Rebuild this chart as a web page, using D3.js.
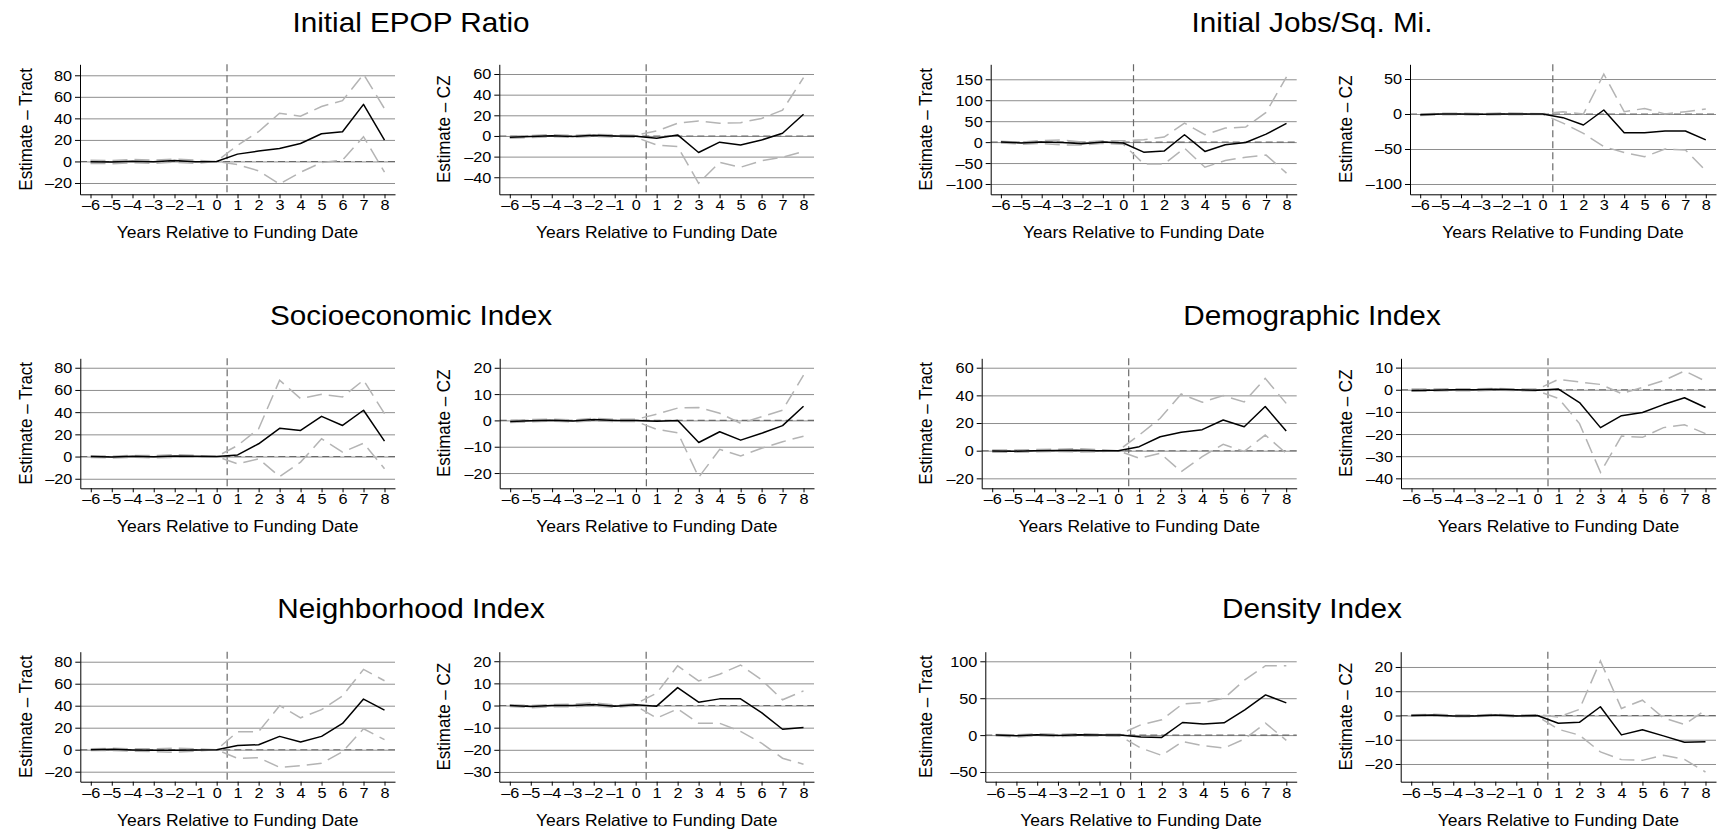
<!DOCTYPE html>
<html>
<head>
<meta charset="utf-8">
<title>Event study estimates</title>
<script src="https://cdn.jsdelivr.net/npm/d3@7"></script>
<style>
  html, body { margin: 0; padding: 0; background: #fff; }
  svg { display: block; font-family: "Liberation Sans", Arial, Helvetica, sans-serif; }
  .tick text { font-size: 15.5px; fill: #000; }
  .axis .domain, .axis .tick line { stroke: #000; stroke-width: 1; }
  .grid .tick line { stroke: #8e8e8e; stroke-width: 1; }
  .grid .domain { display: none; }
  .axistitle { font-size: 16.5px; fill: #000; }
  .ytitle { font-size: 17px; fill: #000; }
  .charttitle { font-size: 27px; fill: #000; }
</style>
</head>
<body>
<svg id="chart" width="1723" height="832"></svg>
<script>
// x axis: years relative to funding date
const years = [-6, -5, -4, -3, -2, -1, 0, 1, 2, 3, 4, 5, 6, 7, 8];
const xTickLabels = ['–6', '–5', '–4', '–3', '–2', '–1', '0', '1', '2', '3', '4', '5', '6', '7', '8'];

// one title per pair of panels (tract | CZ)
const titles = ['Initial EPOP Ratio', 'Initial Jobs/Sq. Mi.', 'Socioeconomic Index', 'Demographic Index', 'Neighborhood Index', 'Density Index'];
const geoLabels = ['Tract', 'CZ'];
const xTitle = 'Years Relative to Funding Date';

// point estimates (est) with upper / lower confidence bounds (hi / lo)
const epopTractEst = [-0.3, -0.6, 0.3, -0.2, 0.8, -0.3, 0, 6.8, 9.6, 12.1, 16.7, 25.7, 27.6, 53.0, 19.8];
const epopTractHi = [1.2, 0.9, 1.8, 1.3, 2.3, 1.2, 0, 15.0, 27.6, 44.7, 42.0, 51.0, 56.5, 81.0, 49.0];
const epopTractLo = [-1.8, -2.1, -1.2, -1.7, -0.7, -1.8, 0, -3.0, -8.7, -21.0, -10.0, -1.0, 1.2, 23.0, -10.0];

const epopCzEst = [-1.2, -0.5, 0.3, -0.5, 0.6, 0, -0.3, -2.3, 1.0, -16.0, -6.0, -8.7, -3.9, 2.6, 21.0];
const epopCzHi = [-0.2, 0.5, 1.3, 0.5, 1.6, 1.0, 0.7, 4.8, 12.3, 14.5, 12.3, 12.9, 17.0, 25.0, 56.5];
const epopCzLo = [-2.2, -1.5, -0.7, -1.5, -0.4, -1.0, -1.3, -8.7, -10.3, -45.8, -25.5, -30.3, -24.0, -20.6, -15.0];

const jobsTractEst = [0, -2, 0, -1, -4, 0, -2, -24, -21.5, 17.6, -22.3, -6.4, -0.8, 19.0, 44.7];
const jobsTractHi = [2, 0, 4, 5, 0, 3, 3, 5.6, 12, 45.5, 17.6, 33.5, 36, 71, 155.6];
const jobsTractLo = [-2, -5, -3, -7, -7, -3, -5, -52, -52, -14.4, -60, -44, -36, -31, -74];

const jobsCzEst = [-1, 0, 0, -0.5, 0, 0, 0, -5.2, -15.7, 5.7, -26.7, -26.7, -24.3, -24.3, -37];
const jobsCzHi = [0, 1, 1, 0.5, 1.5, 1, 0.5, 3.3, 0, 57, 3.3, 8, 0, 3.3, 7];
const jobsCzLo = [-2, -1, -1, -1.5, -1, -1, -0.5, -13, -27.6, -46.7, -55, -61, -50, -51.4, -81];

const socioTractEst = [0, -0.5, 0.2, -0.2, 0.5, 0.3, 0, 1.5, 11.5, 25.4, 23.5, 36.2, 28.0, 41.7, 13.9];
const socioTractHi = [0.8, 0.3, 1.0, 0.8, 1.8, 1.0, 0, 10.0, 25.0, 68.8, 52.2, 56.0, 53.7, 68.8, 38.6];
const socioTractLo = [-0.8, -1.3, -0.6, -1.2, -0.8, -0.4, 0, -6.6, -2.1, -18.0, -5.0, 16.0, 3.9, 12.0, -11.0];

const socioCzEst = [-0.4, -0.1, 0.1, -0.2, 0.3, 0, 0, -0.3, 0, -8.4, -4.3, -7.5, -4.9, -2.0, 5.4];
const socioCzHi = [0, 0.3, 0.5, 0.2, 0.8, 0.4, 0.4, 2.4, 4.7, 4.9, 2.7, -1.1, 1.4, 3.9, 17.2];
const socioCzLo = [-0.8, -0.5, -0.3, -0.6, -0.2, -0.4, -0.4, -3.4, -4.7, -21.6, -11.0, -13.5, -10.6, -8.1, -6.0];

const demoTractEst = [-0.3, -0.4, 0, 0.2, 0.3, 0, 0, 2.9, 10.1, 13.3, 15.2, 22.2, 17.3, 32.0, 14.2];
const demoTractHi = [0.5, 0.4, 0.8, 1.0, 1.5, 0.8, 0, 11.3, 23.4, 41.0, 35.0, 39.8, 35.2, 52.3, 34.2];
const demoTractLo = [-1.1, -1.2, -0.8, -0.6, -0.9, -0.8, 0, -5.5, -1.9, -15.2, -4.3, 4.6, -0.5, 11.3, -1.9];

const demoCzEst = [-0.3, -0.2, 0, 0, 0.2, 0, -0.2, 0.3, -5.8, -17.1, -11.7, -10.3, -6.7, -3.6, -8.0];
const demoCzHi = [0.3, 0.3, 0.5, 0.4, 0.6, 0.3, 0.3, 4.7, 3.5, 2.4, -1.7, 1.1, 4.1, 8.5, 3.9];
const demoCzLo = [-0.7, -0.6, -0.4, -0.5, -0.2, -0.4, -0.6, -3.9, -15.3, -37.3, -20.9, -21.5, -17.1, -15.8, -19.8];

const neighTractEst = [0, 0.3, -0.3, -0.5, -0.5, -0.2, 0, 3.9, 4.5, 12.1, 7.0, 12.1, 23.9, 46.0, 36.0];
const neighTractHi = [0.8, 1.3, 0.8, 0.8, 1.4, 0.8, 0, 16.4, 16.4, 40.0, 29.0, 36.4, 49.0, 73.0, 62.7];
const neighTractLo = [-0.8, -0.7, -1.4, -1.8, -2.4, -1.2, 0, -7.9, -7.3, -16.0, -14.5, -12.4, -1.8, 19.0, 9.1];

const neighCzEst = [0, -0.5, 0, 0, 0.5, -0.3, 0.3, -0.3, 8.1, 1.5, 3.0, 3.0, -3.2, -10.7, -9.9];
const neighCzHi = [0.4, 0, 0.5, 0.6, 1.2, 0.2, 0.8, 5.6, 17.9, 11.1, 14.1, 18.3, 11.6, 2.6, 6.6];
const neighCzLo = [-0.4, -1.0, -0.5, -0.6, -0.2, -0.8, -0.2, -5.7, -1.5, -8.0, -8.0, -11.7, -17.0, -23.8, -26.5];

const densTractEst = [0, -1.0, 0.5, -0.5, 0.5, 0, 0, -2.7, -3.2, 17.1, 14.9, 16.7, 34.2, 54.5, 43.7];
const densTractHi = [1.0, 0.5, 1.8, 1.0, 2.0, 1.2, 1.5, 14.0, 20.7, 42.3, 44.1, 50.0, 74.8, 94.1, 94.1];
const densTractLo = [-1.0, -2.5, -0.8, -2.0, -1.0, -1.2, -1.5, -17.6, -27.5, -8.6, -14.4, -17.6, -5.0, 16.2, -7.2];

const densCzEst = [0, 0.2, -0.2, -0.2, 0.2, -0.2, 0, -3.2, -2.8, 3.6, -8.0, -5.9, -8.4, -11.0, -10.8];
const densCzHi = [0.3, 0.5, 0.2, 0.2, 0.5, 0.2, 0.3, -0.6, 2.5, 22.5, 2.9, 6.3, -1.0, -3.7, 2.2];
const densCzLo = [-0.3, -0.2, -0.5, -0.5, -0.2, -0.5, -0.3, -5.7, -8.1, -15.0, -18.2, -18.5, -16.4, -18.1, -23.3];

// y tick labels per panel, same order as the panels below
const yTicks = [
  [-20, 0, 20, 40, 60, 80], [-40, -20, 0, 20, 40, 60], [-100, -50, 0, 50, 100, 150], [-100, -50, 0, 50],
  [-20, 0, 20, 40, 60, 80], [-20, -10, 0, 10, 20], [-20, 0, 20, 40, 60], [-40, -30, -20, -10, 0, 10],
  [-20, 0, 20, 40, 60, 80], [-30, -20, -10, 0, 10, 20], [-50, 0, 50, 100], [-20, -10, 0, 10, 20]
];
// y axis ranges (plot region extends a bit past the outer ticks)
const yRanges = [
  [-30.5, 90.2], [-56.5, 69.4], [-124.6, 185.8], [-114.7, 71],
  [-28.6, 88.5], [-25.8, 23.6], [-27.2, 66.8], [-44.5, 14.2],
  [-29.1, 89.1], [-34.4, 24.3], [-63.1, 113], [-27.3, 26.3]
];
const xRange = [-6.5, 8.5];
const fundingLine = 0.5;

const panels = [
  [epopTractEst, epopTractHi, epopTractLo], [epopCzEst, epopCzHi, epopCzLo],
  [jobsTractEst, jobsTractHi, jobsTractLo], [jobsCzEst, jobsCzHi, jobsCzLo],
  [socioTractEst, socioTractHi, socioTractLo], [socioCzEst, socioCzHi, socioCzLo],
  [demoTractEst, demoTractHi, demoTractLo], [demoCzEst, demoCzHi, demoCzLo],
  [neighTractEst, neighTractHi, neighTractLo], [neighCzEst, neighCzHi, neighCzLo],
  [densTractEst, densTractHi, densTractLo], [densCzEst, densCzHi, densCzLo]
];

// ---- layout (pixels) ----
const plotLeft = [[80, 499.3, 990.7, 1410], [80.3, 499.7, 981.7, 1401], [80.3, 499.3, 985.3, 1400.7]];
const colRight = [395, 814, 1296.7, 1716];
const rowTop = [64.3, 358.3, 651.7];
const rowBottom = [194.3, 488.3, 781.7];
const yTitleX = [32, 450, 932, 1352];
const titleX = [411, 1312];
const titleY = [32, 325, 618];
// the source text is a little wider than Arial at the same height
const sxTick = 1.05, sxAxis = 1.06, sxY = 1.1, sxTitle = 1.1;

const svg = d3.select('#chart');
svg.append('rect').attr('width', 1723).attr('height', 832).attr('fill', '#fff');

panels.forEach((p, i) => {
  const row = Math.floor(i / 4), col = i % 4;
  const left = plotLeft[row][col], right = colRight[col];
  const top = rowTop[row], bottom = rowBottom[row];
  const [est, hi, lo] = p;

  const x = d3.scaleLinear().domain(xRange).range([left, right]);
  const y = d3.scaleLinear().domain(yRanges[i]).range([bottom, top]);

  const g = svg.append('g').attr('class', 'panel');

  // horizontal gridlines at every y tick
  g.append('g')
    .attr('class', 'grid')
    .attr('transform', `translate(${left},0)`)
    .call(d3.axisLeft(y).tickValues(yTicks[i]).tickSize(-(right - left)).tickFormat(''));

  // zero reference line
  g.append('line')
    .attr('x1', left).attr('x2', right)
    .attr('y1', y(0)).attr('y2', y(0))
    .attr('stroke', '#6a6a6a').attr('stroke-width', 1.1)
    .attr('stroke-dasharray', '7,4');

  // funding date marker
  g.append('line')
    .attr('x1', x(fundingLine)).attr('x2', x(fundingLine))
    .attr('y1', top).attr('y2', bottom)
    .attr('stroke', '#6a6a6a').attr('stroke-width', 1.2)
    .attr('stroke-dasharray', '7,4');

  const line = d3.line().x((d, j) => x(years[j])).y(d => y(d));

  // confidence bounds
  [hi, lo].forEach(ci => {
    g.append('path')
      .datum(ci)
      .attr('d', line)
      .attr('fill', 'none')
      .attr('stroke', '#b4b4b4')
      .attr('stroke-width', 1.5)
      .attr('stroke-dasharray', '15,7');
  });

  // point estimates
  g.append('path')
    .datum(est)
    .attr('d', line)
    .attr('fill', 'none')
    .attr('stroke', '#000')
    .attr('stroke-width', 1.5)
    .attr('stroke-linejoin', 'round');

  // y axis
  const yAxis = g.append('g')
    .attr('class', 'axis')
    .attr('transform', `translate(${left},0)`)
    .call(d3.axisLeft(y).tickValues(yTicks[i]).tickSize(5).tickSizeOuter(0).tickPadding(3)
      .tickFormat(d => (d < 0 ? '–' + Math.abs(d) : String(d))));
  yAxis.attr('font-size', null).attr('font-family', null);
  yAxis.selectAll('.tick text')
    .attr('x', -8 / sxTick)
    .attr('transform', `scale(${sxTick},1)`);

  // x axis
  const xAxis = g.append('g')
    .attr('class', 'axis')
    .attr('transform', `translate(0,${bottom})`)
    .call(d3.axisBottom(x).tickValues(years).tickSize(4).tickSizeOuter(0).tickPadding(1)
      .tickFormat((d, j) => xTickLabels[j]));
  xAxis.attr('font-size', null).attr('font-family', null);
  xAxis.selectAll('.tick text').attr('transform', `scale(${sxTick},1)`);

  // axis titles
  g.append('text')
    .attr('class', 'axistitle')
    .attr('text-anchor', 'middle')
    .attr('transform', `translate(${(left + right) / 2},${bottom + 44}) scale(${sxAxis},1)`)
    .text(xTitle);

  g.append('text')
    .attr('class', 'ytitle')
    .attr('text-anchor', 'middle')
    .attr('transform', `translate(${yTitleX[col]},${(top + bottom) / 2}) scale(${sxY},1) rotate(-90)`)
    .text(`Estimate – ${geoLabels[col % 2]}`);
});

// pair titles
titles.forEach((t, k) => {
  const row = Math.floor(k / 2), pair = k % 2;
  svg.append('text')
    .attr('class', 'charttitle')
    .attr('text-anchor', 'middle')
    .attr('transform', `translate(${titleX[pair]},${titleY[row]}) scale(${sxTitle},1)`)
    .text(t);
});
</script>
</body>
</html>
